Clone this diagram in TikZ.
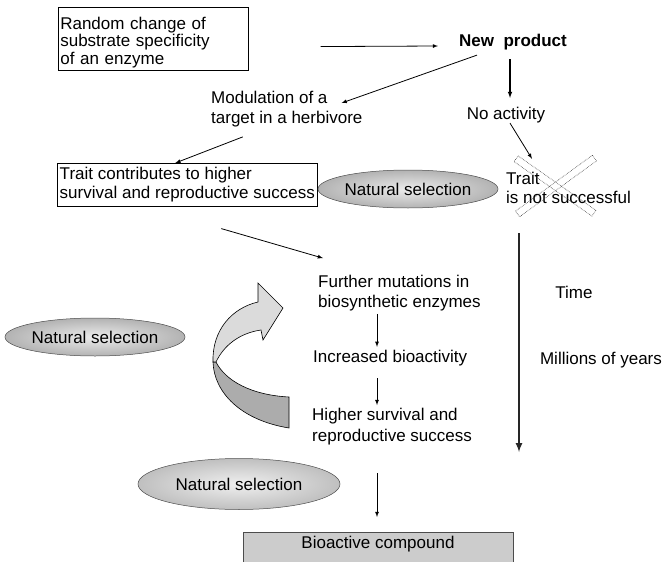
\documentclass[tikz,border=0pt]{standalone}
\usepackage{fontspec}
\setmainfont{Liberation Sans}
\usepackage{tikz}
\usetikzlibrary{shapes,arrows,positioning}
\tikzstyle{box} = [rectangle, draw=black, line width=0.6pt, align=left, inner sep=2pt, font=\fontsize{17pt}{19.5pt}\selectfont]
\tikzstyle{txt} = [align=left, inner sep=3pt, font=\fontsize{17pt}{19.5pt}\selectfont]
\tikzstyle{sel} = [ellipse, draw=gray!60!black, line width=0.5pt, inner color=gray!15, outer color=gray!60, inner sep=0pt, font=\fontsize{17pt}{19.5pt}\selectfont]
\tikzstyle{cross} = [rectangle, draw=gray!50!black, densely dotted, line width=0.6pt, minimum width=95pt, minimum height=7pt, inner sep=0pt]
\tikzstyle{result} = [rectangle, draw=gray!60!black, fill=gray!40, minimum width=270pt, text height=13pt, text depth=24pt, inner sep=3pt, font=\fontsize{17pt}{19.5pt}\selectfont]
\tikzstyle{tedge}  = [draw, line width=0.8pt, >=latex, ->]
\tikzstyle{timeedge} = [draw, gray!30!black, line width=2pt, >=latex, ->]

\begin{document}
\begin{tikzpicture}[x=1pt, y=-1pt, auto]
\clip (0,0) rectangle (664,562);

% first step ==============================

\node[box, anchor=north west, text width=186pt, minimum height=62pt, font=\fontsize{17pt}{17.5pt}\selectfont] (change) at (58,7) {\rule{0pt}{20pt}Random change of\\substrate specificity\\of an enzyme};
\node[txt, font=\fontsize{17pt}{19.5pt}\selectfont\bfseries] (newprod) at (513,42) {New\ \ product};
\node[txt, anchor=west] (modul) at (208,109) {Modulation of a\\target in a herbivore};
\node[txt] (noact) at (506,115) {No activity};

% failed branch
\node[txt, anchor=west] (fail) at (503,188) {Trait\\is not successful};
\node[cross, rotate=-35] (crossa) at (555,186) {};
\node[cross, rotate=36] (crossb) at (556,186) {};

% successful branch
\node[box, anchor=north west, minimum width=260pt, minimum height=43pt] (trait) at (57,163) {Trait contributes to higher\\survival and reproductive success};
\node[sel, minimum width=180pt, minimum height=38pt] (sel1) at (408,189) {Natural selection};

% further evolution =======================

\node[txt, anchor=west] (further) at (315,293) {Further mutations in\\biosynthetic enzymes};
\node[txt, below right=33pt and -5pt of further.south west] (incr) {Increased bioactivity};
\node[txt, below right=36pt and -1pt of incr.south west, font=\fontsize{17pt}{21pt}\selectfont] (higher) {Higher survival and\\reproductive success};
\node[sel, minimum width=180pt, minimum height=38pt] (sel2) at (95,337) {Natural selection};
\node[sel, minimum width=202pt, minimum height=51pt, inner color=gray!12, outer color=gray!50] (sel3) at (239,484) {Natural selection};
\node[result, anchor=north] (bioact) at (378,532) {Bioactive compound\hspace{12pt}};

% curved arrow
\path[draw, line width=0.6pt, fill=gray!65] (216,362) .. controls (225,380) and (250,395) .. (289,397) -- (289,428) .. controls (240,420) and (214,392) .. (213,362) -- cycle;
\path[draw, line width=0.6pt, fill=gray!28] (213,362) .. controls (212,330) and (232,308) .. (258,302) -- (258,283) -- (283,308) -- (263,340) -- (261,330) .. controls (240,333) and (224,345) .. (216,362) -- cycle;

% time axis
\node[txt] (time) at (574,292) {Time};
\node[txt] (years) at (601,360) {Millions of years};
\coordinate (spine) at (377,0);
\coordinate (ttop) at (519,233);
\coordinate (tbot) at (519,452);

%edges
\path[tedge] ([xshift=72pt,yshift=-8pt]change.east) -- ([xshift=-18pt,yshift=-4pt]newprod.west);
\path[tedge] ([xshift=-36pt,yshift=-2pt]newprod.south) -- ([xshift=-24pt,yshift=6pt]modul.east);
\path[tedge, line width=1.1pt] ([xshift=-3pt,yshift=-6pt]newprod.south) -- ([xshift=4pt,yshift=6pt]noact.north);
\path[tedge] ([xshift=4pt,yshift=3pt]noact.south) -- ([xshift=29pt,yshift=10pt]fail.north west);
\path[tedge] ([xshift=-44pt,yshift=-7pt]modul.south) -- ([xshift=-12pt]trait.north);
\path[tedge] ([xshift=34pt,yshift=-22pt]trait.south) -- ([xshift=8pt,yshift=14pt]further.north west);

\path[tedge] (further.south -| spine) -- (incr.north -| spine);
\path[tedge, shorten <=9pt] (incr.south -| spine) -- (higher.north -| spine);
\path[tedge, shorten <=25pt, shorten >=15pt] (higher.south -| spine) -- (bioact.north -| spine);

\path[timeedge] (ttop) -- (tbot);

\end{tikzpicture}
\end{document}
